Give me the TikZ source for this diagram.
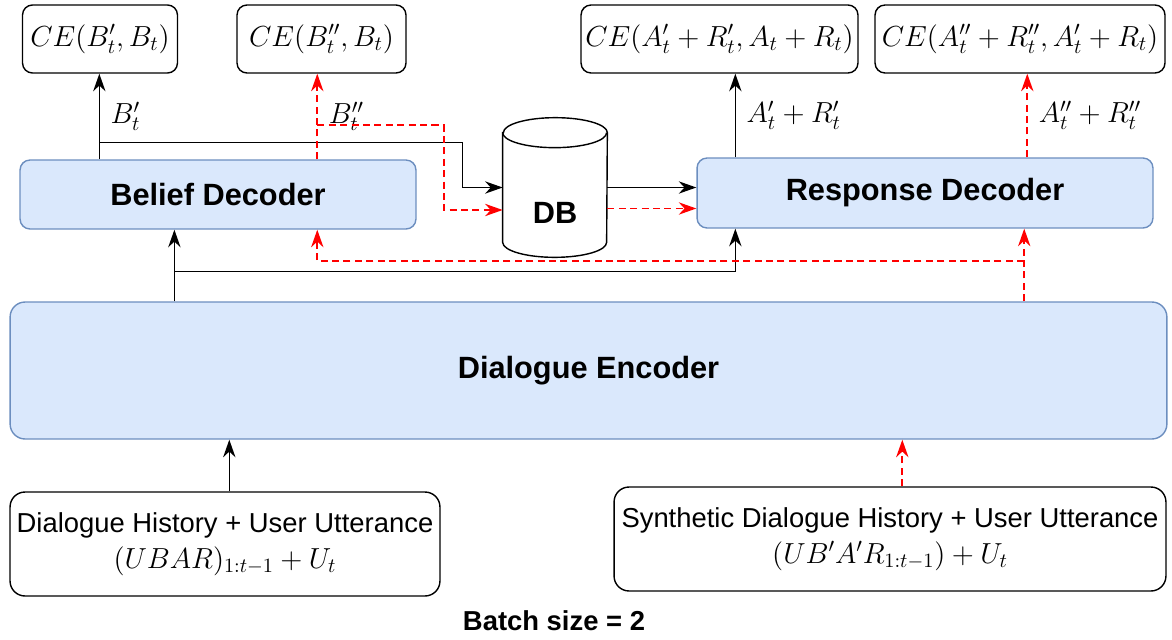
\RequirePackage{fix-cm}
\documentclass[tikz,border=0pt]{standalone}
\usepackage{fontspec}
\setmainfont{Liberation Sans}
\usetikzlibrary{arrows.meta}

\definecolor{decfill}{HTML}{DAE8FC}
\definecolor{decline}{HTML}{6C8EBF}
\definecolor{synred}{HTML}{FF0000}

\begin{document}
\begin{tikzpicture}[
        x=0.02cm, y=-0.02cm,
        lossbox/.style={rectangle, draw, rounded corners=0.2cm, line width=0.8pt, minimum height=1.36cm, inner sep=0pt, font=\fontsize{16.5}{20}\selectfont},
        dec/.style={rectangle, draw=decline, fill=decfill, rounded corners=0.2cm, line width=0.8pt, minimum height=1.38cm, inner sep=0pt, font=\bfseries\fontsize{17.5}{21}\selectfont},
        inbox/.style={rectangle, draw, rounded corners=0.3cm, line width=0.8pt, minimum height=2.08cm, inner sep=0pt, align=center, font=\fontsize{15.6}{19}\selectfont},
        arrow/.style={-{Stealth[length=10pt,width=7pt]}, line width=0.9pt},
        redarrow/.style={arrow, color=synred, line width=1.1pt, dash pattern=on 4pt off 2.5pt},
        lbl/.style={right, inner sep=6pt, text=black, font=\fontsize{16.5}{20}\selectfont}
    ]
        \useasboundingbox (0,0) rectangle (1172,639);

        % loss boxes
        \node[lossbox, minimum width=3.1cm] (ce1) at (100,39) {$CE(B'_t,B_t)$};
        \node[lossbox, minimum width=3.38cm] (ce2) at (321.5,39) {$CE(B''_t,B_t)$};
        \node[lossbox, minimum width=5.54cm] (ce3) at (719.5,39) {$CE(A'_t+R'_t,A_t+R_t)$};
        \node[lossbox, minimum width=5.8cm] (ce4) at (1020,39) {$CE(A''_t+R''_t,A'_t+R_t)$};

        % decoders and encoder
        \node[dec, minimum width=7.92cm] (belief) at (218,194.5) {Belief Decoder};
        \node[dec, minimum width=9.12cm, minimum height=1.4cm] (resp) at (925,193) {Response Decoder};
        \node[dec, minimum width=23.14cm, minimum height=2.74cm, rounded corners=0.3cm] (enc) at (588.5,370.5) {Dialogue Encoder};

        % database
        \node[rectangle, minimum width=2.08cm, minimum height=2.78cm, inner sep=0pt] (db) at (555,187.5) {};
        \draw[line width=0.8pt, fill=white] ([yshift=-0.3cm]db.north west) -- ([yshift=0.3cm]db.south west)
            arc[start angle=180, end angle=360, x radius=1.04cm, y radius=0.3cm]
            -- ([yshift=-0.3cm]db.north east)
            arc[start angle=0, end angle=180, x radius=1.04cm, y radius=0.3cm] -- cycle;
        \draw[line width=0.8pt] ([yshift=-0.3cm]db.north west) arc[start angle=180, end angle=360, x radius=1.04cm, y radius=0.3cm];
        \node[font=\bfseries\fontsize{17.5}{21}\selectfont] (dbtext) at (555,213) {DB};

        % inputs
        \node[inbox, minimum width=8.6cm] (hist) at (225,544) {\raisebox{-4pt}{Dialogue History + User Utterance}\\[4pt]{\fontsize{16.5}{20}\selectfont$(UBAR)_{1:t-1}+U_t$}};
        \node[inbox, minimum width=11.04cm] (synth) at (890,539) {\raisebox{-4pt}{Synthetic Dialogue History + User Utterance}\\[4pt]{\fontsize{16.5}{20}\selectfont$(UB'A'R_{1:t-1})+U_t$}};
        \node[font=\bfseries\fontsize{15.6}{19}\selectfont] (batch) at (554,621) {Batch size = 2};

        % black path
        \draw[arrow] ([xshift=3.3cm]enc.north west) -- ([xshift=3.3cm]enc.north west |- belief.south);
        \draw[arrow] ([xshift=3.3cm,yshift=0.6cm]enc.north west) -| ([xshift=0.78cm]resp.south west);
        \draw[arrow] ([xshift=1.6cm]belief.north west) -- ([xshift=1.6cm]belief.north west |- ce1.south) node[lbl, midway] {$B'_t$};
        \draw[arrow] ([xshift=1.6cm,yshift=0.34cm]belief.north west) -| ([xshift=-0.8cm]db.west) -- (db.west);
        \draw[arrow] (db.east) -- (db.east -| resp.west);
        \draw[arrow] ([xshift=0.78cm]resp.north west) -- ([xshift=0.78cm]resp.north west |- ce3.south) node[lbl, midway] {$A'_t+R'_t$};
        \draw[arrow] ([xshift=4.4cm]hist.north west) -- ([xshift=4.4cm]hist.north west |- enc.south);

        % red path
        \draw[redarrow] ([xshift=5.78cm]synth.north west) -- ([xshift=5.78cm]synth.north west |- enc.south);
        \draw[redarrow] ([xshift=20.3cm]enc.north west) -- ([xshift=20.3cm]enc.north west |- resp.south);
        \draw[redarrow] ([xshift=20.3cm,yshift=0.8cm]enc.north west) -| ([xshift=5.96cm]belief.south west);
        \draw[redarrow] ([xshift=5.96cm]belief.north west) -- ([xshift=5.96cm]belief.north west |- ce2.south) node[lbl, midway] {$B''_t$};
        \draw[redarrow] ([xshift=5.96cm,yshift=0.68cm]belief.north west) -| ([xshift=-1.18cm,yshift=-0.45cm]db.west) -- ([yshift=-0.45cm]db.west);
        \draw[redarrow] ([yshift=-0.42cm]db.east) -- ([yshift=-0.42cm]db.east -| resp.west);
        \draw[redarrow] ([xshift=6.62cm]resp.north west) -- ([xshift=6.62cm]resp.north west |- ce4.south) node[lbl, midway] {$A''_t+R''_t$};
    \end{tikzpicture}
\end{document}
